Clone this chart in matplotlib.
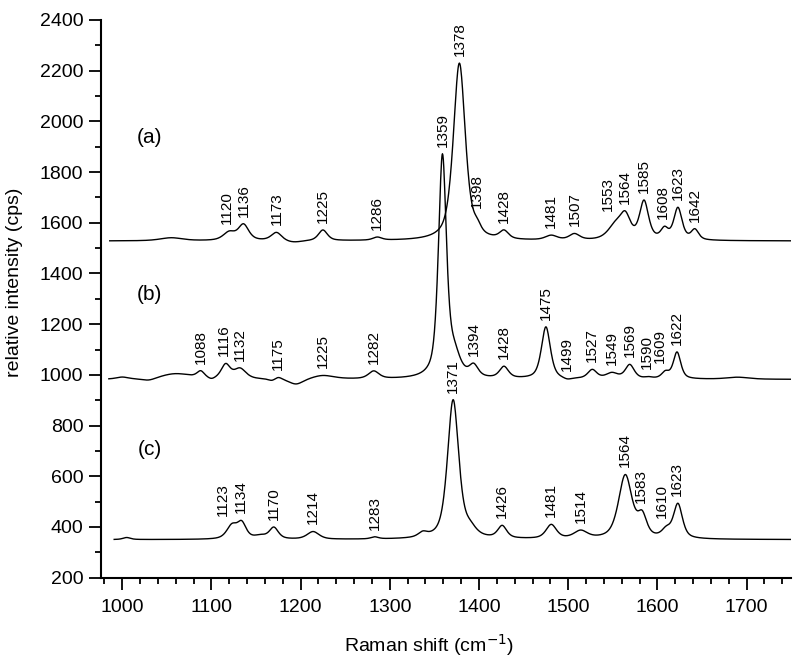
import numpy as np
import matplotlib.pyplot as plt
from matplotlib.ticker import MultipleLocator

plt.rcParams['font.family'] = ['Liberation Sans', 'DejaVu Sans']

#%% peak tables (centre [cm-1], height above baseline [cps], half width [cm-1])

# (a)
a_base = 1528
a_start = 986
a_pos = [1055, 1120, 1136, 1173, 1192, 1225, 1286, 1378, 1398, 1428, 1481, 1507,
         1553, 1564, 1585, 1608, 1623, 1642]
a_hgt = [12, 32, 62, 33, -8, 42, 12, 700, 28, 32, 18, 24, 55, 85, 150, 40, 125, 40]
a_wid = [15, 8, 7, 7, 12, 6, 6, 8, 5, 6, 8, 7, 10, 7, 6, 5, 5.5, 5]
a_labels = [1120, 1136, 1173, 1225, 1286, 1378, 1398, 1428, 1481, 1507, 1553, 1564,
            1585, 1608, 1623, 1642]

# (b)
b_base = 982
b_start = 985
b_pos = [1000, 1030, 1060, 1088, 1100, 1116, 1132, 1168, 1175, 1195, 1225, 1282,
         1359, 1372, 1394, 1428, 1475, 1499, 1527, 1549, 1569, 1590, 1609, 1622, 1690]
b_hgt = [8, -10, 22, 25, -8, 55, 40, -8, 10, -22, 15, 30,
         870, 80, 45, 45, 205, -8, 35, 22, 55, 5, 25, 105, 8]
b_wid = [8, 10, 22, 5, 5, 6, 8, 5, 5, 10, 15, 7,
         5.3, 8, 6, 6, 6, 6, 6, 8, 6, 5, 5, 5, 15]
b_labels = [1088, 1116, 1132, 1175, 1225, 1282, 1359, 1394, 1428, 1475, 1499,
            1527, 1549, 1569, 1590, 1609, 1622]

# (c)
c_base = 350
c_start = 991
c_pos = [1005, 1123, 1134, 1155, 1170, 1214, 1283, 1337, 1371, 1390, 1426,
         1481, 1514, 1564, 1583, 1610, 1623]
c_hgt = [8, 52, 60, 12, 45, 30, 8, 18, 548, 30, 48, 55, 30, 250, 80, 30, 135]
c_wid = [5, 7, 6, 8, 6, 8, 5, 6, 7.5, 8, 6, 7, 9, 9, 6, 6, 6]
c_labels = [1123, 1134, 1170, 1214, 1283, 1371, 1426, 1481, 1514, 1564, 1583,
            1610, 1623]

x_end = 1750

#%% build spectra as sums of pseudo-Voigt bands

def pvoigt(x, c, h, w, eta=0.6):
    d = ((x - c) / w) ** 2
    return h * (eta / (1 + d) + (1 - eta) * np.exp(-np.log(2) * d))

def spectrum(start, base, pos, hgt, wid):
    x = np.arange(start, x_end + 0.5, 0.5)
    y = np.full_like(x, base, dtype=float)
    for c, h, w in zip(pos, hgt, wid):
        y += pvoigt(x, c, h, w)
    return x, y

# sideways nudges for crowded labels (cm-1)
a_nudge = {1120: -3, 1553: -8, 1608: -1.5}
b_nudge = {1116: -2, 1590: -2, 1609: -6}
c_nudge = {1123: -10, 1134: -1, 1583: -2, 1610: -5, 1623: -1}

traces = [
    (spectrum(a_start, a_base, a_pos, a_hgt, a_wid), a_labels, a_nudge, '(a)', 1935),
    (spectrum(b_start, b_base, b_pos, b_hgt, b_wid), b_labels, b_nudge, '(b)', 1316),
    (spectrum(c_start, c_base, c_pos, c_hgt, c_wid), c_labels, c_nudge, '(c)', 705),
]

#%% plot

fig = plt.figure(figsize=(8, 6.64), dpi=100)
ax = fig.add_axes([0.126, 0.130, 0.863, 0.840])

for (x, y), labels, nudge, name, name_y in traces:
    ax.plot(x, y, color='black', lw=1.0)
    for p in labels:
        m = (x > p - 2.5) & (x < p + 2.5)
        ax.text(p + nudge.get(p, 0), y[m].max() + 28, str(p), rotation=90,
                ha='center', va='bottom', fontsize=11)
    ax.text(1031, name_y, name, ha='center', va='center', fontsize=15)

ax.set_xlim(976, 1750)
ax.set_ylim(200, 2400)
ax.xaxis.set_major_locator(MultipleLocator(100))
ax.xaxis.set_minor_locator(MultipleLocator(20))
ax.yaxis.set_major_locator(MultipleLocator(200))
ax.yaxis.set_minor_locator(MultipleLocator(100))

ax.spines['top'].set_visible(False)
ax.spines['right'].set_visible(False)
for s in ['left', 'bottom']:
    ax.spines[s].set_linewidth(1.5)

ax.tick_params(which='major', direction='out', length=8.5, width=1.3, labelsize=14)
ax.tick_params(which='minor', direction='out', length=4.5, width=1.3)
ax.tick_params(axis='x', which='major', pad=7)
ax.tick_params(axis='y', which='major', pad=4)

ax.set_xlabel('Raman shift (cm$^{-1}$)', fontsize=14)
ax.set_ylabel('relative intensity (cps)', fontsize=14)
ax.xaxis.set_label_coords(0.475, -0.098)
ax.yaxis.set_label_coords(-0.112, 0.53)

fig.savefig('out.png', dpi=100)
